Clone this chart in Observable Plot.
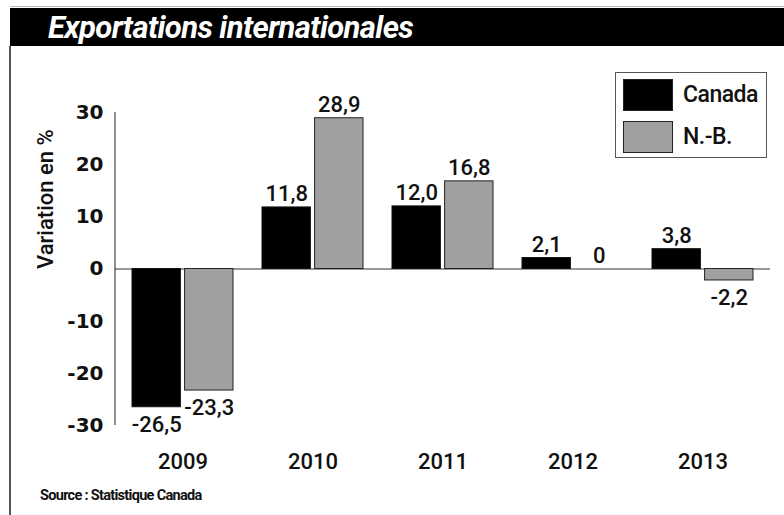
<!DOCTYPE html>
<html>
<head>
<meta charset="utf-8">
<script src="https://cdn.jsdelivr.net/npm/d3@7"></script>
<script src="https://cdn.jsdelivr.net/npm/@observablehq/plot@0.6"></script>
<style>
  html, body { margin: 0; padding: 0; background: #fff; }
  #wrap { position: relative; width: 784px; height: 515px; overflow: hidden; font-family: Roboto, "Liberation Sans", sans-serif; }
  #topline { position: absolute; left: 10px; top: 6px; width: 774px; height: 1px; background: #bbb; }
  #title { position: absolute; left: 10px; top: 8px; width: 774px; height: 38px; background: #000; color: #fff;
           font-weight: bold; font-style: italic; font-size: 31px; line-height: 40px; box-sizing: border-box; padding-left: 38px; letter-spacing: -0.6px; }
  #leftline { position: absolute; left: 9px; top: 46px; width: 2px; height: 469px; background: #555; }
  #chart { position: absolute; left: 0; top: 46px; }
  #legend { position: absolute; left: 615px; top: 72px; width: 152px; height: 86px; border: 1px solid #555; box-sizing: border-box; background: #fff; }
  .sw { position: absolute; left: 7px; width: 50px; height: 32px; border: 1px solid #222; box-sizing: border-box; }
  .lt { position: absolute; left: 67px; font-size: 23px; font-weight: 500; line-height: 32px; color: #111; letter-spacing: -0.5px; }
  #source { position: absolute; left: 40px; top: 487px; font-size: 14.5px; font-weight: bold; color: #111; letter-spacing: -0.7px; }
</style>
</head>
<body>
<div id="wrap">
  <div id="topline"></div>
  <div id="title">Exportations internationales</div>
  <div id="leftline"></div>
  <div id="chart"></div>
  <div id="legend"></div>
  <div id="source">Source : Statistique Canada</div>
</div>
<script>
const years = ["2009", "2010", "2011", "2012", "2013"];
const seriesNames = ["Canada", "N.-B."];
const canada = [-26.5, 11.8, 12.0, 2.1, 3.8];
const nb = [-23.3, 28.9, 16.8, 0, -2.2];
const yTicks = [-30, -20, -10, 0, 10, 20, 30];
const colors = ["#000000", "#a0a0a0"];

const data = [];
years.forEach((y, i) => {
  data.push({year: y, series: seriesNames[0], value: canada[i]});
  data.push({year: y, series: seriesNames[1], value: nb[i]});
});
const label = v => v === 0 ? "0" : v.toFixed(1).replace(".", ",");

const W = 784, H = 469;
const half = 50.6;
const inner = 2;
const off = half / 2 + inner / 2;
const FONT = 'Roboto, "Liberation Sans", sans-serif';

const axisLine = (index, scales, values, dims) => {
  const g = document.createElementNS("http://www.w3.org/2000/svg", "line");
  g.setAttribute("x1", dims.marginLeft);
  g.setAttribute("x2", dims.marginLeft);
  g.setAttribute("y1", scales.y(30));
  g.setAttribute("y2", scales.y(-30));
  g.setAttribute("stroke", "#222");
  g.setAttribute("stroke-width", 1);
  return g;
};

const labelMarks = (s, dx) => [
  Plot.text(data.filter(d => d.series === s && d.value >= 0), {
    x: "year", y: "value", text: d => label(d.value), dx,
    lineAnchor: "bottom", dy: -6, fontSize: 22, fontWeight: 500, fill: "#111", letterSpacing: "-0.5px"
  }),
  Plot.text(data.filter(d => d.series === s && d.value < 0), {
    x: "year", y: "value", text: d => label(d.value), dx,
    lineAnchor: "top", dy: 9, fontSize: 22, fontWeight: 500, fill: "#111", letterSpacing: "-0.5px"
  })
];

const chart = Plot.plot({
  width: W,
  height: H,
  marginTop: 66,
  marginBottom: 90,
  marginLeft: 115,
  marginRight: 14,
  style: {fontFamily: FONT, background: "transparent", color: "#111"},
  x: {type: "band", domain: years, range: [130, 754], paddingInner: 0.226, paddingOuter: 0},
  y: {domain: [-30, 30]},
  marks: [
    Plot.ruleY([0], {stroke: "#333", strokeWidth: 1}),
    Plot.barY(data.filter(d => d.series === seriesNames[0]), {x: "year", y: "value", fill: colors[0], stroke: "#111", strokeWidth: 1, insetRight: half + inner}),
    Plot.barY(data.filter(d => d.series === seriesNames[1]), {x: "year", y: "value", fill: colors[1], stroke: "#222", strokeWidth: 1, insetLeft: half + inner}),
    ...labelMarks(seriesNames[0], -off),
    ...labelMarks(seriesNames[1], off),
    axisLine,
    Plot.axisY({ticks: yTicks, tickSize: 0, tickPadding: 12, fontSize: 20, fontWeight: "bold",
      fontFamily: '"DejaVu Sans", sans-serif', tickFormat: d => String(d), label: null}),
    Plot.axisX({tickSize: 0, tickPadding: 28, fontSize: 22, fontWeight: 500, label: null, letterSpacing: "-0.5px"}),
    Plot.text(["Variation en %"], {frameAnchor: "left", rotate: -90, dx: -70, fontSize: 22, fontWeight: 500, fill: "#111", letterSpacing: "-0.5px"})
  ]
});
document.getElementById("chart").appendChild(chart);

// legend
const legend = document.getElementById("legend");
seriesNames.forEach((s, i) => {
  const sw = document.createElement("div");
  sw.className = "sw";
  sw.style.top = (6 + i * 42) + "px";
  sw.style.background = colors[i];
  legend.appendChild(sw);
  const t = document.createElement("div");
  t.className = "lt";
  t.style.top = (6 + i * 42) + "px";
  t.textContent = s;
  legend.appendChild(t);
});
</script>
</body>
</html>
